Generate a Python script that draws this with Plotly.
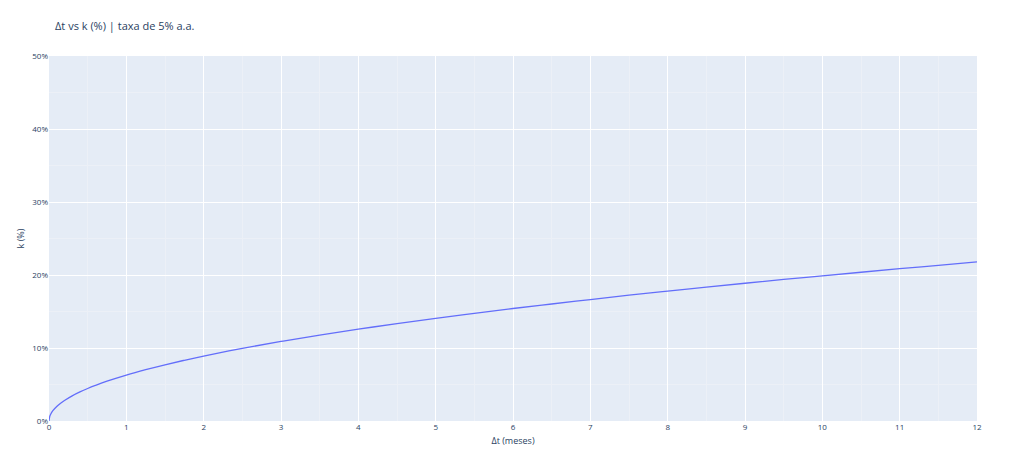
import plotly.graph_objects as go

# Δt in months and k in percent
dt_meses = [0, 0.01, 0.02, 0.05, 0.1, 0.15, 0.2, 0.3, 0.4, 0.5, 0.6, 0.75, 1, 1.25, 1.5, 1.75,
            2, 2.5, 3, 3.5, 4, 4.5, 5, 5.5, 6, 6.5, 7, 7.5, 8, 8.5, 9, 9.5, 10, 10.5, 11, 11.5, 12]
k_pct = [0, 0.63, 0.89, 1.41, 1.99, 2.44, 2.81, 3.45, 3.98, 4.45, 4.87, 5.45, 6.29, 7.03, 7.70, 8.32,
         8.90, 9.95, 10.90, 11.77, 12.58, 13.34, 14.06, 14.75, 15.41, 16.03, 16.64, 17.23, 17.79,
         18.34, 18.87, 19.39, 19.89, 20.38, 20.86, 21.33, 21.79]

x_ticks = list(range(0, 13))
y_ticks = [0, 10, 20, 30, 40, 50]
y_labels = ["0%", "10%", "20%", "30%", "40%", "50%"]

W, H = 1006, 448

fig = go.Figure()
fig.add_trace(go.Scatter(x=dt_meses, y=k_pct, mode="lines",
                         line=dict(color="#636efa", width=1.3, shape="spline"),
                         showlegend=False))

fig.update_layout(
    width=W, height=H,
    template="plotly",
    margin=dict(l=37, r=37, t=48, b=32),
    title=dict(text="Δt vs k (%) | taxa de 5% a.a.", x=47 / W, xanchor="left",
               y=1 - 18 / H, yanchor="middle",
               font=dict(size=11, color="#2a3f5f")),
    font=dict(family="Open Sans, Arial, sans-serif", size=8, color="#2a3f5f"),
    xaxis=dict(title=dict(text="Δt (meses)", font=dict(size=9), standoff=6), range=[0, 12],
               tickvals=x_ticks, ticktext=[str(v) for v in x_ticks], zeroline=False,
               minor=dict(dtick=0.5, showgrid=True, gridcolor="#ecf0f7")),
    yaxis=dict(title=dict(text="k (%)", font=dict(size=9), standoff=6), range=[0, 50],
               tickvals=y_ticks, ticktext=y_labels, zeroline=False,
               minor=dict(dtick=5, showgrid=True, gridcolor="#ecf0f7")),
)

fig.write_html("out.html")
